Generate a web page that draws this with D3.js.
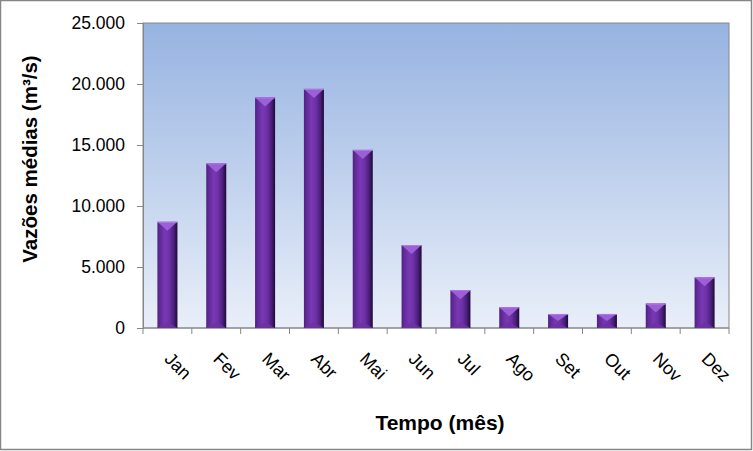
<!DOCTYPE html>
<html><head><meta charset="utf-8">
<script src="https://cdn.jsdelivr.net/npm/d3@7"></script>
<style>body{margin:0;background:#fff;}svg{display:block;font-family:Arial,"Liberation Sans",sans-serif;}</style>
</head><body>
<script>
const months = ["Jan","Fev","Mar","Abr","Mai","Jun","Jul","Ago","Set","Out","Nov","Dez"];
const vazoes = [8700, 13500, 18900, 19600, 14600, 6800, 3100, 1700, 1150, 1150, 2000, 4150];
const yTicks = [0, 5000, 10000, 15000, 20000, 25000];
const yTitle = "Vazões médias (m³/s)";
const xTitle = "Tempo (mês)";

const W = 753, H = 451;
const m = {l:143, r:24, t:23, b:123};
const svg = d3.select("body").append("svg").attr("width", W).attr("height", H);
const defs = svg.append("defs");
const bg = defs.append("linearGradient").attr("id","bg").attr("x1",0).attr("y1",0).attr("x2",0).attr("y2",1);
bg.append("stop").attr("offset","0%").attr("stop-color","#97b3e1");
bg.append("stop").attr("offset","100%").attr("stop-color","#e9eff9");
const bar = defs.append("linearGradient").attr("id","bar").attr("x1",0).attr("y1",0).attr("x2",1).attr("y2",0);
[["0%","#4e2180"],["12%","#602a96"],["38%","#7a38b4"],["60%","#6d30a6"],["82%","#4a1f7a"],["100%","#1e0a35"]].forEach(s=>bar.append("stop").attr("offset",s[0]).attr("stop-color",s[1]));

svg.append("rect").attr("x",0.5).attr("y",0.5).attr("width",W-2).attr("height",H-2).attr("fill","#fff").attr("stroke","#868686").attr("stroke-width",1.5);

const x = d3.scaleBand().domain(months).range([m.l, W-m.r]).paddingInner(0.59).paddingOuter(0.295);
const y = d3.scaleLinear().domain([0,25000]).range([H-m.b, m.t]);

svg.append("rect").attr("x",m.l).attr("y",m.t).attr("width",W-m.r-m.l).attr("height",H-m.b-m.t).attr("fill","url(#bg)").attr("stroke","#868686").attr("stroke-width",1);

const fmt = v => d3.format(",")(v).replace(/,/g,".");
const ya = svg.append("g").attr("transform",`translate(${m.l},0)`).call(d3.axisLeft(y).tickValues(yTicks).tickFormat(fmt).tickSize(6).tickPadding(12));
ya.select(".domain").attr("stroke","#868686");
ya.selectAll(".tick line").attr("stroke","#868686");
ya.selectAll("text").attr("font-size",17.5).attr("fill","#000").attr("font-family","Arial,'Liberation Sans',sans-serif");

const band = (W-m.r-m.l)/12;
const xa = svg.append("g").attr("transform",`translate(0,${H-m.b})`);
xa.append("line").attr("x1",m.l).attr("x2",W-m.r).attr("stroke","#868686");
d3.range(13).forEach(i=>xa.append("line").attr("x1",m.l+i*band).attr("x2",m.l+i*band).attr("y1",0).attr("y2",6).attr("stroke","#868686"));
months.forEach(mo=>{
  const cx = x(mo)+x.bandwidth()/2;
  xa.append("text").text(mo).attr("transform",`translate(${cx-4},${32}) rotate(45)`).attr("font-size",18).attr("fill","#000");
});

const bw = x.bandwidth();
const g = svg.append("g");
months.forEach((mo,i)=>{
  const x0 = x(mo), y0 = y(vazoes[i]), y1 = y(0), h = y1-y0;
  const bv = Math.min(bw/2, h/2, 9);
  g.append("rect").attr("x",x0).attr("y",y0).attr("width",bw).attr("height",h).attr("fill","url(#bar)");
  const bb = Math.min(6, h/2.5);
  g.append("path").attr("d",`M${x0},${y1}L${x0+bw},${y1}L${x0+bw/2},${y1-bb}Z`).attr("fill","#6a34a0").attr("opacity",0.9);
  g.append("path").attr("d",`M${x0},${y0}L${x0+bw},${y0}L${x0+bw/2},${y0+bv}Z`).attr("fill","#9b5fd6");
  g.append("line").attr("x1",x0).attr("x2",x0+bw).attr("y1",y0+0.5).attr("y2",y0+0.5).attr("stroke","#b07ae8").attr("stroke-width",1);
});

svg.append("text").text(yTitle).attr("transform",`translate(37,159) rotate(-90)`).attr("text-anchor","middle").attr("font-size",20.5).attr("font-weight","bold");
svg.append("text").text(xTitle).attr("x",440).attr("y",430).attr("text-anchor","middle").attr("font-size",21).attr("font-weight","bold");
</script>
</body></html>
